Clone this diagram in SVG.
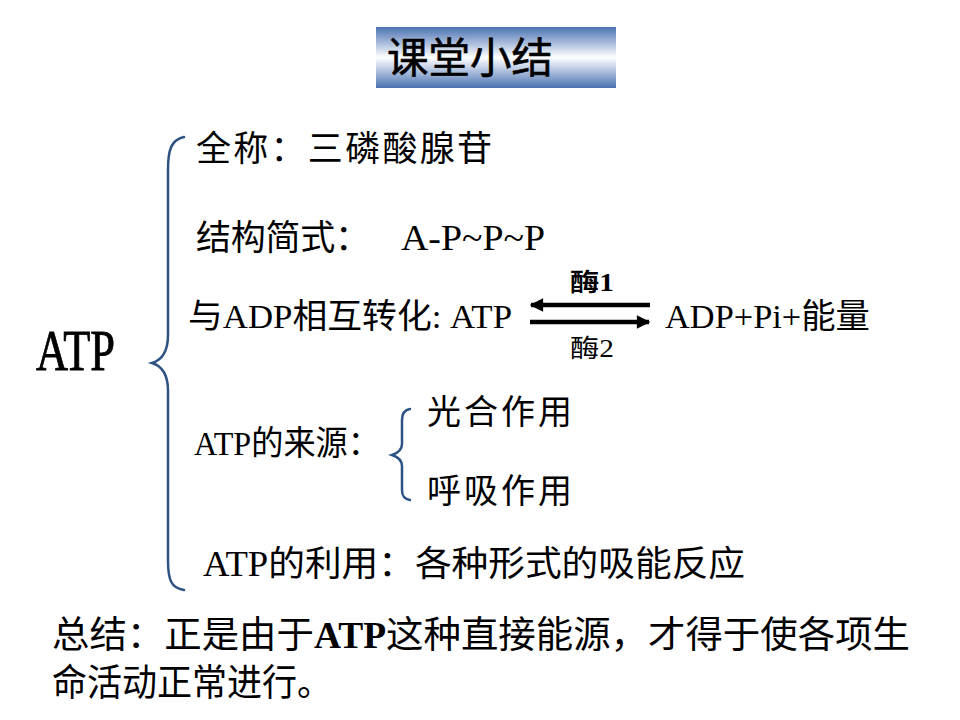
<svg xmlns="http://www.w3.org/2000/svg" width="960" height="720" viewBox="0 0 960 720">
<defs>
<linearGradient id="tg" x1="0" y1="0" x2="0" y2="1">
<stop offset="0" stop-color="#4a72b2"/>
<stop offset="0.5" stop-color="#ffffff"/>
<stop offset="1" stop-color="#4a72b2"/>
</linearGradient>
<marker id="ah" viewBox="0 0 10 10" refX="9" refY="5" markerWidth="3.2" markerHeight="3" orient="auto" markerUnits="strokeWidth">
<path d="M0,0 L10,5 L0,10 z" fill="#000"/>
</marker>
</defs>
<style>
text{font-family:"Liberation Serif","Noto Sans CJK SC",serif;fill:#000;}
.br{fill:none;stroke:#2e5284;stroke-width:2.5;stroke-linecap:round;}
.arr{stroke:#000;stroke-width:4.5;fill:none;}
</style>
<rect width="960" height="720" fill="#fff"/>
<g id="title">
<rect x="376" y="27" width="240" height="61" fill="url(#tg)"/>
<text x="387" y="73" font-size="42" stroke="#000" stroke-width="0.6" textLength="166" lengthAdjust="spacingAndGlyphs">课堂小结</text>
</g>
<g id="atp">
<text x="36" y="370" font-size="56" stroke="#000" stroke-width="0.8" textLength="79" lengthAdjust="spacingAndGlyphs">ATP</text>
</g>
<g id="connectors">
<path class="br" d="M184,137 C171,140 168,150 168,170 L168,335 C168,352 162,360 152,363 C162,366 168,374 168,391 L168,560 C168,580 171,588 184,590"/>
<path class="br" d="M410,409 C404,410 402,414 402,420 L402,444 C402,450 398,453 392,455 C398,457 402,460 402,466 L402,490 C402,496 404,499 410,500"/>
<line class="arr" x1="650" y1="305" x2="531" y2="305" marker-end="url(#ah)"/>
<line class="arr" x1="530" y1="322" x2="649" y2="322" marker-end="url(#ah)"/>
</g>
<g id="name">
<text x="196" y="161" font-size="35" textLength="296" lengthAdjust="spacing">全称：三磷酸腺苷</text>
</g>
<g id="structure">
<text x="196" y="250" font-size="35" textLength="174" lengthAdjust="spacing">结构简式：</text>
<text x="401" y="250" font-size="36" textLength="144" lengthAdjust="spacingAndGlyphs">A-P~P~P</text>
</g>
<g id="conversion">
<text x="188" y="328" font-size="34" textLength="324" lengthAdjust="spacingAndGlyphs">与ADP相互转化: ATP</text>
<text x="570" y="291" font-size="25" font-weight="bold" textLength="44" lengthAdjust="spacingAndGlyphs">酶1</text>
<text x="570" y="357" font-size="25" textLength="44" lengthAdjust="spacingAndGlyphs">酶2</text>
<text x="665" y="328" font-size="34" textLength="205" lengthAdjust="spacingAndGlyphs">ADP+Pi+能量</text>
</g>
<g id="source">
<text x="194" y="455" font-size="34" textLength="186" lengthAdjust="spacingAndGlyphs">ATP的来源：</text>
<text x="427" y="424" font-size="34" textLength="145" lengthAdjust="spacing">光合作用</text>
<text x="427" y="503" font-size="34" textLength="145" lengthAdjust="spacing">呼吸作用</text>
</g>
<g id="use">
<text x="203" y="576" font-size="35" textLength="542" lengthAdjust="spacingAndGlyphs">ATP的利用：各种形式的吸能反应</text>
</g>
<g id="summary">
<text x="52" y="648" font-size="37" textLength="858" lengthAdjust="spacingAndGlyphs">总结：正是由于<tspan font-weight="bold">ATP</tspan>这种直接能源，才得于使各项生</text>
<text x="52" y="696" font-size="37" textLength="280" lengthAdjust="spacingAndGlyphs">命活动正常进行。</text>
</g>
</svg>
